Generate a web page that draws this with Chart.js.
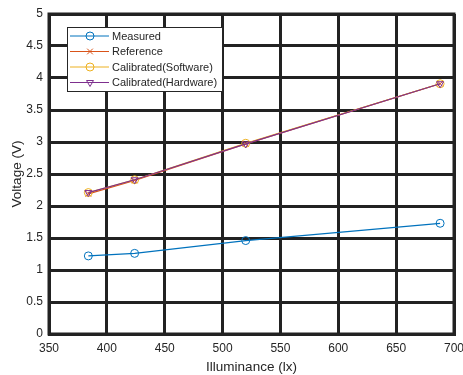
<!DOCTYPE html>
<html><head><meta charset="utf-8">
<script src="https://cdn.jsdelivr.net/npm/chart.js@4.4.0/dist/chart.umd.min.js"></script>
<style>html,body{margin:0;padding:0;background:#fff}#wrap{width:463px;height:375px}</style>
</head><body><div id="wrap"><canvas id="c" width="463" height="375"></canvas></div>
<script>
const illuminance = [384, 424, 520, 688];
const measured = [1.22, 1.26, 1.46, 1.73];
const reference = [2.19, 2.40, 2.97, 3.91];
const calibratedSoftware = [2.21, 2.41, 2.98, 3.91];
const calibratedHardware = [2.21, 2.41, 2.97, 3.91];
const seriesNames = ['Measured', 'Reference', 'Calibrated(Software)', 'Calibrated(Hardware)'];
const xTitle = 'Illuminance (lx)';
const yTitle = 'Voltage (V)';

const pts = arr => illuminance.map((x, i) => ({x, y: arr[i]}));
const FONT = "'Liberation Sans', Arial, sans-serif";

const insideLegend = {
  id: 'insideLegend',
  afterDatasetsDraw(chart) {
    const ctx = chart.ctx, a = chart.chartArea;
    const x0 = a.left + 18, y0 = a.top + 13, w = 155, h = 64;
    ctx.save();
    ctx.fillStyle = '#fff';
    ctx.fillRect(x0, y0, w, h);
    ctx.strokeStyle = '#262626';
    ctx.lineWidth = 1;
    ctx.strokeRect(x0 + 0.5, y0 + 0.5, w, h);
    ctx.font = '11px ' + FONT;
    ctx.textBaseline = 'middle';
    chart.data.datasets.forEach((ds, i) => {
      const yy = y0 + 9 + i * 15.5;
      ctx.strokeStyle = ds.borderColor;
      ctx.lineWidth = 1;
      ctx.beginPath(); ctx.moveTo(x0 + 3, yy); ctx.lineTo(x0 + 42, yy); ctx.stroke();
      ctx.fillStyle = 'rgba(0,0,0,0)';
      Chart.helpers.drawPoint(ctx, {pointStyle: ds.pointStyle, rotation: ds.pointRotation || 0, radius: ds.pointRadius, borderWidth: 1}, x0 + 23, yy);
      ctx.fillStyle = '#262626';
      ctx.fillText(ds.label, x0 + 45, yy + 0.5);
    });
    ctx.restore();
  }
};

const mk = (label, data, color, style, rot, order) => ({
  label, data: pts(data), borderColor: color, backgroundColor: 'rgba(0,0,0,0)',
  pointBorderColor: color, pointBackgroundColor: 'rgba(0,0,0,0)',
  borderWidth: 1.2, pointStyle: style, pointRotation: rot || 0, pointRadius: 4, pointBorderWidth: 1,
  showLine: true, tension: 0, order
});

new Chart(document.getElementById('c'), {
  type: 'scatter',
  data: {
    datasets: [
      mk(seriesNames[0], measured, '#0072BD', 'circle', 0, 3),
      mk(seriesNames[1], reference, '#D95319', 'crossRot', 0, 2),
      mk(seriesNames[2], calibratedSoftware, '#EDB120', 'circle', 0, 1),
      mk(seriesNames[3], calibratedHardware, '#7E2F8E', 'triangle', 180, 0)
    ]
  },
  options: {
    responsive: false, animation: false, devicePixelRatio: 1,
    layout: {padding: {top: 14, right: 9, left: 9, bottom: 0}},
    plugins: {legend: {display: false}, tooltip: {enabled: false}},
    scales: {
      x: {
        type: 'linear', min: 350, max: 700,
        ticks: {stepSize: 50, color: '#262626', font: {family: FONT, size: 12}, padding: 7, maxRotation: 0},
        grid: {color: '#222', lineWidth: 3, drawTicks: false},
        border: {color: '#222', width: 3},
        title: {display: true, text: xTitle, color: '#262626', font: {family: FONT, size: 13.5}, padding: {top: 1, bottom: 0}},
        afterFit(s) { s.height = 41; s.paddingRight = 0; s.paddingLeft = 0; }
      },
      y: {
        min: 0, max: 5,
        ticks: {stepSize: 0.5, color: '#262626', font: {family: FONT, size: 12}, padding: 6,
          callback: v => String(+v.toFixed(1))},
        grid: {color: '#222', lineWidth: 3, drawTicks: false},
        border: {color: '#222', width: 3},
        title: {display: true, text: yTitle, color: '#262626', font: {family: FONT, size: 13.5}, padding: {top: 0, bottom: 0}},
        afterFit(s) { s.width = 40; s.paddingTop = 0; s.paddingBottom = 0; }
      }
    }
  },
  plugins: [insideLegend, {
    id: 'frame',
    afterDraw(chart) {
      const ctx = chart.ctx, a = chart.chartArea;
      ctx.save(); ctx.strokeStyle = '#222'; ctx.lineWidth = 3;
      ctx.strokeRect(a.left, a.top, a.right - a.left, a.bottom - a.top);
      ctx.restore();
    }
  }]
});
</script></body></html>
